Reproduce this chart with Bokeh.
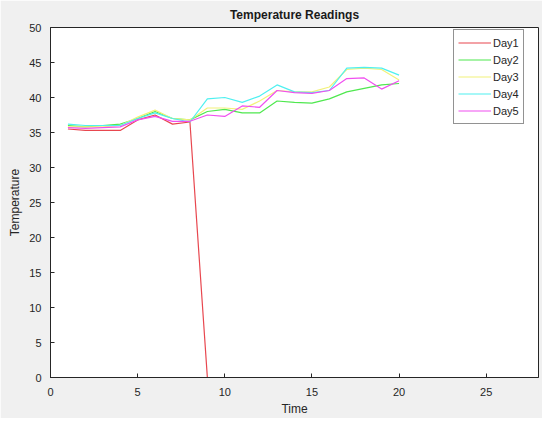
from bokeh.plotting import figure
from bokeh.models import Range1d, Legend, LegendItem, SingleIntervalTicker
from bokeh.embed import file_html
from bokeh.resources import INLINE

time = list(range(1, 21))
day1 = [35.5, 35.3, 35.3, 35.3, 36.8, 37.5, 36.2, 36.5, 0, 0, 0, 0, 0, 0, 0, 0, 0, 0, 0, 0]
day2 = [36.0, 35.8, 36.0, 36.2, 37.0, 38.0, 37.0, 36.8, 38.0, 38.3, 37.8, 37.8, 39.5, 39.3, 39.2, 39.8, 40.8, 41.3, 41.8, 42.0]
day3 = [35.8, 35.8, 35.8, 36.0, 37.2, 38.2, 37.0, 36.8, 38.5, 38.5, 38.3, 39.5, 41.0, 40.8, 40.8, 41.5, 44.0, 44.2, 44.0, 42.5]
day4 = [36.2, 36.0, 36.0, 36.0, 37.0, 37.8, 37.0, 36.5, 39.8, 40.0, 39.3, 40.2, 41.8, 40.8, 40.7, 41.0, 44.2, 44.3, 44.2, 43.2]
day5 = [35.7, 35.6, 35.7, 35.8, 36.8, 37.3, 36.6, 36.6, 37.5, 37.3, 38.8, 38.6, 41.0, 40.7, 40.6, 41.0, 42.7, 42.8, 41.2, 42.4]
names = ["Day1", "Day2", "Day3", "Day4", "Day5"]
colors = ["#e8474f", "#4fe84f", "#f2f27a", "#4ff0f0", "#f04ff0"]

FONT = "Liberation Sans"

p = figure(width=542, height=418, output_backend="svg", toolbar_location=None,
           x_range=Range1d(0, 28), y_range=Range1d(0, 50),
           min_border_left=50, min_border_right=4, min_border_top=27, min_border_bottom=37)
p.title.text = "Temperature Readings"
p.title.align = "center"
p.title.text_font = FONT
p.title.text_font_size = "12px"
p.title.text_color = "#1a1a1a"
p.title.offset = 0
p.title.standoff = 11

p.border_fill_color = "#f0f0f0"
p.background_fill_color = "white"
p.outline_line_color = "#262626"
p.outline_line_width = 1
p.grid.visible = False

for ax in (p.xaxis, p.yaxis):
    ax.axis_line_color = "#262626"
    ax.major_tick_line_color = "#262626"
    ax.major_tick_in = 4
    ax.major_tick_out = 0
    ax.minor_tick_line_color = None
    ax.major_label_text_font = FONT
    ax.major_label_text_font_size = "11px"
    ax.major_label_text_color = "#262626"
    ax.axis_label_text_font = FONT
    ax.axis_label_text_font_size = "12px"
    ax.axis_label_text_font_style = "normal"
    ax.axis_label_text_color = "#262626"
p.xaxis.ticker = SingleIntervalTicker(interval=5)
p.yaxis.ticker = SingleIntervalTicker(interval=5)
p.xaxis.axis_label = "Time"
p.yaxis.axis_label = "Temperature"
p.xaxis.major_label_standoff = 6
p.xaxis.axis_label_standoff = 3
p.yaxis.axis_label_standoff = 4

items = []
for name, ys, c in zip(names, [day1, day2, day3, day4, day5], colors):
    r = p.line(time, ys, line_color=c, line_width=1.2)
    items.append(LegendItem(label=name, renderers=[r]))

legend = Legend(items=items, location=(403, 253))
legend.margin = 0
legend.padding = 4
legend.spacing = 0
legend.glyph_width = 33
legend.glyph_height = 17
legend.label_height = 17
legend.label_standoff = 2
legend.label_text_font = FONT
legend.label_text_font_size = "11px"
legend.label_text_color = "#262626"
legend.border_line_color = "#262626"
legend.border_line_width = 1
legend.background_fill_color = "white"
p.add_layout(legend, "center")

open("out.html", "w").write(file_html(p, INLINE))
